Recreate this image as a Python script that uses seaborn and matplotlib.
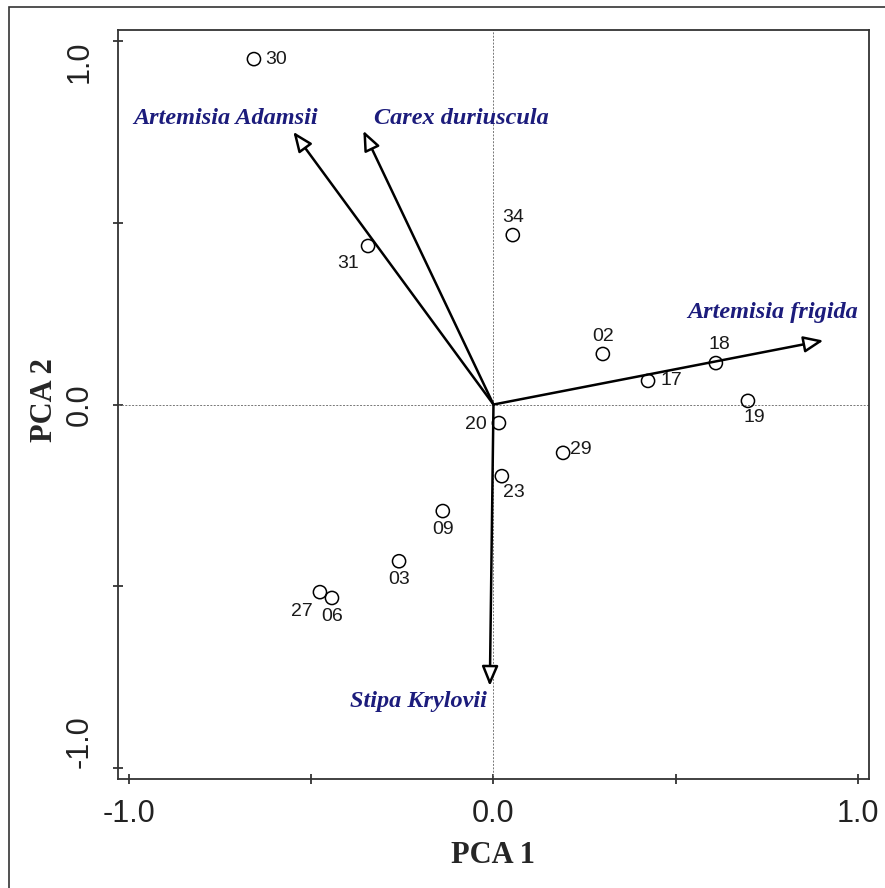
import numpy as np
import pandas as pd
import matplotlib
matplotlib.use("Agg")
import matplotlib.pyplot as plt
import seaborn as sns
from matplotlib.patches import Rectangle

# site scores
sites = ["30", "31", "34", "02", "18", "17", "19", "20", "29", "23", "09", "03", "27", "06"]
pca1 = [-0.657, -0.344, 0.053, 0.300, 0.610, 0.424, 0.698, 0.015, 0.191, 0.023, -0.139, -0.259, -0.476, -0.443]
pca2 = [0.950, 0.436, 0.466, 0.139, 0.114, 0.065, 0.010, -0.051, -0.133, -0.197, -0.293, -0.431, -0.516, -0.532]

# species loadings (arrow tips)
species = ["Artemisia Adamsii", "Carex duriuscula", "Artemisia frigida", "Stipa Krylovii"]
load1 = [-0.549, -0.357, 0.905, -0.010]
load2 = [0.750, 0.753, 0.176, -0.774]

# where the species names sit
name_x = [-0.734, -0.089, 0.765, -0.207]
name_y = [0.788, 0.788, 0.252, -0.818]

# site label offsets in pixels (dx, dy)
offsets = {"30": (22, 0), "31": (-20, -18), "34": (0, 18), "02": (0, 17),
           "18": (4, 19), "17": (23, 0), "19": (6, -17), "20": (-23, -1),
           "29": (18, 3), "23": (12, -16), "09": (0, -18), "03": (0, -18),
           "27": (-18, -19), "06": (0, -19)}

df = pd.DataFrame({"site": sites, "PCA1": pca1, "PCA2": pca2})

sns.set_style("ticks")
plt.rcParams["font.family"] = ["Liberation Sans", "DejaVu Sans"]
serif = ["Liberation Serif", "DejaVu Serif"]

fig = plt.figure(figsize=(8.85, 8.88), dpi=100)
ax = fig.add_axes([0.1333, 0.1227, 0.8486, 0.8435])

ax.axhline(0, color="#777777", lw=0.7, ls=(0, (2, 1.5)), zorder=1)
ax.axvline(0, color="#777777", lw=0.7, ls=(0, (2, 1.5)), zorder=1)

for sx, sy in zip(load1, load2):
    ax.annotate("", xy=(sx, sy), xytext=(0, 0),
                arrowprops=dict(arrowstyle="-|>,head_length=0.6,head_width=0.25",
                                mutation_scale=20, lw=1.8, ec="black", fc="white",
                                shrinkA=0, shrinkB=0), zorder=3)

sns.scatterplot(data=df, x="PCA1", y="PCA2", ax=ax, s=90, marker="o",
                facecolor="none", edgecolor="black", linewidth=1.1, zorder=4)

for s, x, y in zip(sites, pca1, pca2):
    dx, dy = offsets[s]
    ax.annotate(s, xy=(x, y), xytext=(dx, dy), textcoords="offset pixels",
                ha="center", va="center", fontsize=14, color="#1a1a1a", zorder=5)

for name, x, y in zip(species, name_x, name_y):
    ax.text(x, y, name, ha="center", va="center", fontsize=17.5,
            family=serif, weight="bold", style="italic",
            color="#1c1c7c", zorder=5)

ax.set_xlim(-1.03, 1.03)
ax.set_ylim(-1.03, 1.03)
ticks = [-1.0, -0.5, 0.0, 0.5, 1.0]
tlabels = ["-1.0", "", "0.0", "", "1.0"]
ax.set_xticks(ticks)
ax.set_xticklabels(tlabels)
ax.set_yticks(ticks)
ax.set_yticklabels(tlabels, rotation=90)
# end labels pulled inward along the y axis
for lab, va in zip(ax.get_yticklabels(), ["bottom", "center", "center", "center", "top"]):
    lab.set_va(va)
ax.tick_params(axis="both", direction="inout", length=7, width=1.2,
               colors="#222222", labelsize=22)
ax.tick_params(axis="x", pad=11)
ax.tick_params(axis="y", pad=13)

for sp in ax.spines.values():
    sp.set_linewidth(1.3)
    sp.set_color("#333333")
    sp.set_visible(True)

ax.set_xlabel("PCA 1", family=serif, weight="bold", fontsize=22)
ax.set_ylabel("PCA 2", family=serif, weight="bold", fontsize=22)
ax.xaxis.set_label_coords(0.5, -0.1015)
ax.xaxis.label.set_va("center")
ax.yaxis.set_label_coords(-0.0972, 0.506)
ax.yaxis.label.set_va("center")

# outer frame around the figure
fig.patches.append(Rectangle((9 / 885, -0.05), 1.2, (888 - 7) / 888 + 0.05,
                             transform=fig.transFigure, fill=False,
                             ec="#333333", lw=1.2))

fig.savefig("out.png", dpi=100)
